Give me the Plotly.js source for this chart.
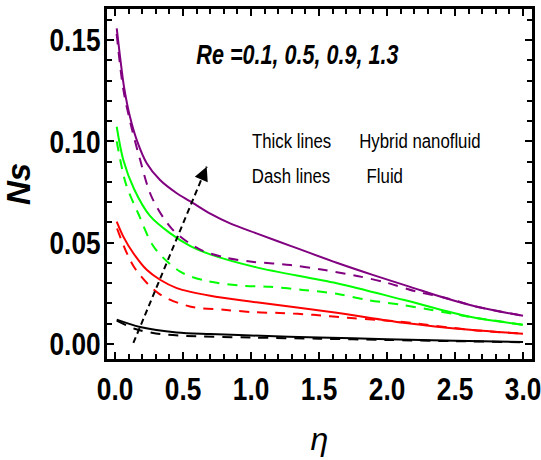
<!DOCTYPE html>
<html>
<head>
<meta charset="utf-8">
<script src="https://cdn.plot.ly/plotly-3.0.1.min.js"></script>
<style>html,body{margin:0;padding:0;background:#fff;}#chart{width:541px;height:460px;}</style>
</head>
<body>
<div id="chart"></div>
<script>
// Re = 1.3 (purple)
const xPurpleSolid = [0.0125, 0.037, 0.066, 0.110, 0.160, 0.233, 0.331, 0.454, 0.551, 0.70, 0.85, 1.04, 1.3, 1.63, 1.9, 2.17, 2.42, 2.66, 3.0];
const yPurpleSolid = [0.1557, 0.1417, 0.1269, 0.1121, 0.1006, 0.0892, 0.0809, 0.0744, 0.0705, 0.0643, 0.0594, 0.0546, 0.0482, 0.0401, 0.034, 0.0282, 0.0228, 0.0184, 0.0139];
const xPurpleDash = [0.012, 0.06, 0.11, 0.184, 0.27, 0.42, 0.62, 0.82, 1.02, 1.29, 1.53, 1.78, 2.0, 2.22, 2.44, 2.66, 3.0];
const yPurpleDash = [0.153, 0.126, 0.110, 0.091, 0.0725, 0.0567, 0.0468, 0.0425, 0.0405, 0.039, 0.0366, 0.0336, 0.0302, 0.0258, 0.0226, 0.0184, 0.0139];
// Re = 0.9 (green)
const xGreenSolid = [0.0125, 0.061, 0.14, 0.257, 0.404, 0.551, 0.70, 1.04, 1.63, 2.12, 2.61, 3.0];
const yGreenSolid = [0.1072, 0.0908, 0.0765, 0.0632, 0.0547, 0.0484, 0.0442, 0.0378, 0.0300, 0.0218, 0.0134, 0.0095];
const xGreenDash = [0.0125, 0.08, 0.17, 0.29, 0.48, 0.68, 0.95, 1.14, 1.38, 1.63, 1.85, 2.1, 2.32, 2.61, 3.0];
const yGreenDash = [0.100, 0.079, 0.0645, 0.0475, 0.0357, 0.031, 0.0287, 0.0282, 0.0267, 0.0248, 0.0218, 0.0194, 0.0169, 0.0134, 0.0095];
// Re = 0.5 (red)
const xRedSolid = [0.0125, 0.061, 0.135, 0.233, 0.331, 0.454, 0.70, 1.04, 1.63, 2.12, 2.61, 3.0];
const yRedSolid = [0.0604, 0.053, 0.0448, 0.0366, 0.0317, 0.0276, 0.0238, 0.0206, 0.0154, 0.0105, 0.007, 0.0051];
const xRedDash = [0.015, 0.14, 0.32, 0.55, 0.80, 1.02, 1.21, 1.46, 1.71, 1.93, 2.17, 2.61, 3.0];
const yRedDash = [0.057, 0.038, 0.025, 0.0185, 0.0169, 0.0157, 0.0153, 0.0144, 0.0129, 0.0119, 0.0105, 0.007, 0.0051];
// Re = 0.1 (black)
const xBlackSolid = [0.0125, 0.184, 0.454, 0.70, 1.0, 1.5, 2.0, 2.5, 3.0];
const yBlackSolid = [0.012, 0.0084, 0.0057, 0.0049, 0.0042, 0.0032, 0.0024, 0.0016, 0.001];
const xBlackDash = [0.0125, 0.15, 0.30, 0.52, 1.0, 1.5, 2.0, 2.5, 3.0];
const yBlackDash = [0.0115, 0.0074, 0.0052, 0.004, 0.0032, 0.0026, 0.002, 0.0014, 0.0009];
// arrow indicating increasing Re
const arrowX = [0.135, 0.674];
const arrowY = [0.0005, 0.0875];
const xTickVals = [0, 0.5, 1, 1.5, 2, 2.5, 3];
const xTickText = ['0.0', '0.5', '1.0', '1.5', '2.0', '2.5', '3.0'];
const yTickVals = [0, 0.05, 0.10, 0.15];
const yTickText = ['0.00', '0.05', '0.10', '0.15'];

const FONT = '"Liberation Sans", Arial, sans-serif';
const PURPLE = '#800080', GREEN = '#00ff00', RED = '#ff0000', BLACK = '#000000';
const DASH = '10px,8px';

function tr(x, y, color, dash, name) {
  return {x: x, y: y, type: 'scatter', mode: 'lines', name: name,
    line: {color: color, width: 2, dash: dash, shape: 'spline', smoothing: 0.9},
    hoverinfo: 'skip', showlegend: false};
}

const data = [
  tr(xBlackSolid, yBlackSolid, BLACK, 'solid', 'Re=0.1 hybrid'),
  tr(xBlackDash, yBlackDash, BLACK, DASH, 'Re=0.1 fluid'),
  tr(xRedSolid, yRedSolid, RED, 'solid', 'Re=0.5 hybrid'),
  tr(xRedDash, yRedDash, RED, DASH, 'Re=0.5 fluid'),
  tr(xGreenSolid, yGreenSolid, GREEN, 'solid', 'Re=0.9 hybrid'),
  tr(xGreenDash, yGreenDash, GREEN, DASH, 'Re=0.9 fluid'),
  tr(xPurpleSolid, yPurpleSolid, PURPLE, 'solid', 'Re=1.3 hybrid'),
  tr(xPurpleDash, yPurpleDash, PURPLE, DASH, 'Re=1.3 fluid'),
  {x: arrowX, y: arrowY, type: 'scatter', mode: 'lines', hoverinfo: 'skip', showlegend: false,
   line: {color: BLACK, width: 2, dash: '6px,4px'}}
];

const layout = {
  width: 541, height: 460,
  margin: {l: 107, r: 9, t: 9, b: 101},
  paper_bgcolor: '#ffffff', plot_bgcolor: '#ffffff',
  showlegend: false,
  font: {family: FONT, color: '#000'},
  xaxis: {
    range: [-0.059, 3.066], tickmode: 'array', tickvals: xTickVals, ticktext: xTickText,
    ticks: 'inside', ticklen: 7, tickwidth: 2, tickcolor: '#000',
    minor: {dtick: 0.1, ticks: 'inside', ticklen: 5, tickwidth: 2, tickcolor: '#000'},
    showline: true, linewidth: 3, linecolor: '#000', mirror: 'allticks',
    showgrid: false, zeroline: false, ticklabeloverflow: 'allow',
    tickfont: {family: FONT, size: 32, color: '#000', weight: 'bold'},
    title: {text: '<i>η</i>', font: {family: FONT, size: 32, color: '#000'}, standoff: 22}
  },
  yaxis: {
    range: [-0.0074, 0.1653], tickmode: 'array', tickvals: yTickVals, ticktext: yTickText,
    ticks: 'inside', ticklen: 7, tickwidth: 2, tickcolor: '#000',
    minor: {dtick: 0.01, ticks: 'inside', ticklen: 5, tickwidth: 2, tickcolor: '#000'},
    showline: true, linewidth: 3, linecolor: '#000', mirror: 'allticks',
    showgrid: false, zeroline: false, ticklabeloverflow: 'allow',
    tickfont: {family: FONT, size: 32, color: '#000', weight: 'bold'},
    title: {text: '<b><i>Ns</i></b>', font: {family: FONT, size: 33, color: '#000'}, standoff: 13}
  },
  annotations: [
    {x: arrowX[1], y: arrowY[1], ax: arrowX[1] - 0.03, ay: arrowY[1] - 0.0048,
     xref: 'x', yref: 'y', axref: 'x', ayref: 'y', showarrow: true,
     arrowhead: 2, arrowsize: 1.4, arrowwidth: 2, arrowcolor: '#000', text: ''},
    {xref: 'paper', yref: 'paper', x: 0.448, y: 0.868, xanchor: 'center', yanchor: 'middle', showarrow: false,
     text: '<b><i>Re =0.1, 0.5, 0.9, 1.3</i></b>', font: {family: FONT, size: 27, color: '#000'}},
    {xref: 'paper', yref: 'paper', x: 0.435, y: 0.623, xanchor: 'center', yanchor: 'middle', showarrow: false,
     text: 'Thick lines', font: {family: FONT, size: 21, color: '#000'}},
    {xref: 'paper', yref: 'paper', x: 0.7365, y: 0.623, xanchor: 'center', yanchor: 'middle', showarrow: false,
     text: 'Hybrid nanofluid', font: {family: FONT, size: 21, color: '#000'}},
    {xref: 'paper', yref: 'paper', x: 0.433, y: 0.523, xanchor: 'center', yanchor: 'middle', showarrow: false,
     text: 'Dash lines', font: {family: FONT, size: 21, color: '#000'}},
    {xref: 'paper', yref: 'paper', x: 0.654, y: 0.523, xanchor: 'center', yanchor: 'middle', showarrow: false,
     text: 'Fluid', font: {family: FONT, size: 21, color: '#000'}}
  ]
};

// Narrow the text horizontally (the original uses a condensed face) while keeping it real text.
function condense(sel, s, dx) {
  document.querySelectorAll(sel).forEach(function (el) {
    const bb = el.getBBox();
    const anchor = el.getAttribute('text-anchor') || (el.style && el.style.textAnchor) || 'middle';
    let cx = bb.x + bb.width / 2;
    if (anchor === 'end') cx = bb.x + bb.width;
    else if (anchor === 'start') cx = bb.x;
    const cy = bb.y + bb.height / 2;
    const t = el.getAttribute('transform') || '';
    el.setAttribute('transform', t + ' translate(' + (cx + (dx || 0)) + ',' + cy + ') scale(' + s + ',1) translate(' + (-cx) + ',' + (-cy) + ')');
  });
}

Plotly.newPlot('chart', data, layout, {staticPlot: true, displayModeBar: false}).then(function () {
  condense('#chart .xtick text', 0.82, 0);
  condense('#chart .ytick text', 0.82, 3);
  condense('#chart .annotation-text', 0.80, 0);
});
</script>
</body>
</html>
